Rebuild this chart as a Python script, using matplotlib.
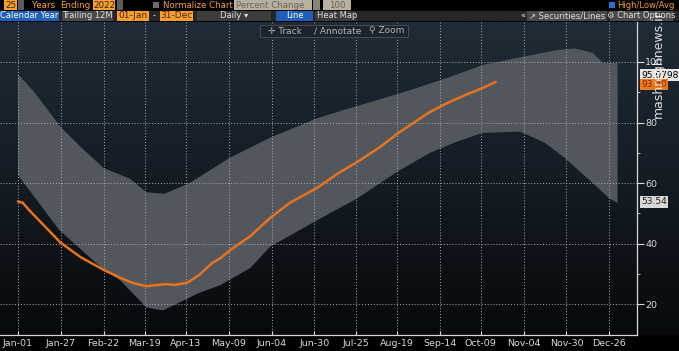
import matplotlib
matplotlib.use("Agg")
import matplotlib.pyplot as plt
import numpy as np
from matplotlib.colors import LinearSegmentedColormap

# ---- data (x = day of year 2022) ----
tick_days = [0, 26, 52, 77, 102, 128, 154, 180, 205, 230, 256, 281, 307, 333, 359]
tick_labels = ["Jan-01", "Jan-27", "Feb-22", "Mar-19", "Apr-13", "May-09", "Jun-04",
               "Jun-30", "Jul-25", "Aug-19", "Sep-14", "Oct-09", "Nov-04", "Nov-30", "Dec-26"]

high_days = [0, 10, 26, 38, 52, 68, 78, 89, 104, 123, 129, 153, 182, 203, 234,
             262, 282, 309, 328, 338, 349, 355, 364]
high_vals = [96, 90, 78.5, 72, 65, 61.5, 57, 56.5, 60, 66.5, 68.5, 75, 81.5, 85, 90,
             95, 99, 102, 104, 104.5, 103, 99.7, 99.7]

low_days = [0, 25, 52, 62, 78, 88, 110, 123, 141, 153, 182, 206, 230,
            250, 266, 282, 305, 320, 332, 347, 359, 364]
low_vals = [62.7, 44.6, 31.4, 28, 19, 18, 23.8, 26.4, 32, 39, 47.9, 55, 63.7,
            70, 73.6, 76.6, 77, 73.3, 68.3, 61, 55, 53.5]

cur_days = [0, 3, 7, 15, 26, 38, 52, 62, 70, 78, 90, 95, 103, 110, 118, 123, 129, 141,
            153, 165, 182, 195, 206, 220, 231, 250, 262, 272, 282, 290]
cur_vals = [54, 53.5, 51, 46.5, 40.3, 35.6, 31.4, 28.8, 27, 26, 26.7, 26.4, 27.2, 29.7,
            33.7, 35.3, 38, 42.5, 48.5, 53.5, 58.6, 63.5, 67, 72, 76.6, 83.5, 86.8, 89.2,
            91.4, 93.4]

y_ticks = [20, 40, 60, 80, 100]

W, H = 679, 351


def fx(x):
    return x / W


def fy(y):
    return 1 - y / H


fig = plt.figure(figsize=(W / 100, H / 100), dpi=100, facecolor="black")

# background gradient behind the plot area (also behind the right label strip)
bg = fig.add_axes([0, fy(335), 1, (335 - 22) / H])
grad = np.linspace(0, 1, 256).reshape(-1, 1)
cmap = LinearSegmentedColormap.from_list("bbg", ["#1f2b36", "#141c24", "#07090c"])
bg.imshow(grad, aspect="auto", cmap=cmap, extent=[0, 1, 0, 1])
bg.set_axis_off()

ax = fig.add_axes([0, fy(335), fx(637), (335 - 22) / H])
ax.set_facecolor("none")

# high / low band
band_x = list(high_days) + list(low_days[::-1])
band_y = list(high_vals) + list(low_vals[::-1])
ax.fill(band_x, band_y, color="#51575d", lw=0, zorder=1)

ax.plot(cur_days, cur_vals, color="#e8731e", lw=1.8, zorder=3, solid_capstyle="round")

ax.set_xlim(-10.9, 375.8)
ax.set_ylim(9.9, 113.2)

ax.set_xticks(tick_days)
ax.set_xticklabels(tick_labels)
ax.set_yticks(y_ticks)
ax.set_yticks([30, 50, 70, 90], minor=True)
ax.yaxis.tick_right()
ax.tick_params(axis="x", colors="#d8d8d8", labelsize=6.8, direction="in", length=3, pad=3)
ax.tick_params(axis="y", which="major", colors="#d8d8d8", labelsize=6.8, direction="out",
               length=5, pad=1)
ax.tick_params(axis="y", which="minor", colors="#d8d8d8", direction="out", length=2)
ax.grid(True, which="major", color="#a7adb3", ls=(0, (1, 2)), lw=0.7, zorder=2)
for s in ["top", "left"]:
    ax.spines[s].set_visible(False)
for s in ["right", "bottom"]:
    ax.spines[s].set_color("#d8d8d8")
    ax.spines[s].set_linewidth(0.9)
ax.set_axisbelow(False)

# last value tags on the right
fig.text(fx(641), fy(75), "95.0798", fontsize=6.5, color="black", va="center", ha="left",
         bbox=dict(boxstyle="square,pad=0.15", fc="#e6e6e6", ec="none"))
fig.text(fx(641), fy(84.5), "93.40", fontsize=6.5, color="#7a2a00", va="center", ha="left",
         bbox=dict(boxstyle="square,pad=0.15", fc="#f07a1e", ec="none"))
fig.text(fx(641), fy(202), "53.54", fontsize=6.5, color="#202020", va="center", ha="left",
         bbox=dict(boxstyle="square,pad=0.15", fc="#d8d8d8", ec="none"))

# ---- header rows (terminal toolbar) ----
amber = "#f5a030"
fs = 6


def box(x0, y0, x1, y1, fc, ec="none"):
    fig.patches.append(plt.Rectangle((fx(x0), fy(y1)), fx(x1 - x0), (y1 - y0) / H,
                                     transform=fig.transFigure, fc=fc, ec=ec, lw=0.6,
                                     zorder=1))


def label(x, y, s, color, ha="left", size=fs):
    fig.text(fx(x), fy(y), s, color=color, fontsize=size, ha=ha, va="center", zorder=3)


# row 1
box(4, 0, 17, 10, amber)
label(10.5, 5, "25", "#3a1a00", ha="center", size=6.3)
box(18, 0, 24, 10, "#5a5a5a")
label(32, 5, "Years", amber, size=6.3)
label(60, 5, "Ending", amber, size=6.3)
box(93, 0, 115, 10, amber)
label(104, 5, "2022", "#3a1a00", ha="center", size=6.3)
box(117, 0, 123, 10, "#5a5a5a")
box(153, 2, 159, 8, "#6a6a6a")
label(163, 5, "Normalize Chart", amber, size=6.2)
box(234, 0, 312, 10, "#b8b1a0")
label(236, 5, "Percent Change", "#6a6458", size=6.2)
box(313, 0, 320, 10, "#8a8478")
box(323, 0, 351, 10, "#b8b1a0")
label(337, 5, "100", "#6a6458", ha="center", size=6.2)
box(609, 2, 615, 8, "#2b6fd0")
label(617, 5, "High/Low/Avg", amber, size=6)

# row 2
box(0, 11, 679, 21, "#262626")
box(0, 11, 59, 21, "#1f5fb8")
label(29.5, 16, "Calendar Year", "white", ha="center")
box(62, 11, 113, 21, "#4a4a4a")
label(87.5, 16, "Trailing 12M", "#e0e0e0", ha="center")
box(117, 11, 149, 21, amber)
label(133, 16, "01-Jan", "#5a2000", ha="center", size=6.5)
label(154, 16, "-", "#e0e0e0", ha="center")
box(160, 11, 193, 21, amber)
label(176.5, 16, "31-Dec", "#5a2000", ha="center", size=6.5)
box(197, 11, 271, 21, "#3c3c3c")
label(234, 16, "Daily \u25be", "#e0e0e0", ha="center")
box(276, 11, 313, 21, "#1f5fb8")
label(294.5, 16, "Line", "white", ha="center")
box(315, 11, 356, 21, "#3c3c3c")
label(317, 16, "Heat Map", "#e0e0e0")
label(523, 16, "\u00ab", "#e0e0e0", ha="center")
box(527, 11, 607, 21, "#4a4a4a")
label(567, 16, "\u2197 Securities/Lines", "#e0e0e0", ha="center")
box(610, 11, 673, 21, "#4a4a4a")
label(641.5, 16, "\u2699 Chart Options", "#e0e0e0", ha="center")

# row 3 - chart tools
box(260, 25, 408, 37, "#1b232b", ec="#4a525a")
label(285, 31, "\u271b Track", "#b0b6bc", ha="center", size=6.5)
label(338, 31, "\u2215 Annotate", "#b0b6bc", ha="center", size=6.5)
label(387, 31, "\u26b2 Zoom", "#b0b6bc", ha="center", size=6.5)

# watermark
fig.text(fx(658), fy(64), "mashreghnews.ir", rotation=90, color="white", alpha=0.85,
         fontsize=9, ha="center", va="center", zorder=4)

fig.savefig("out.png", dpi=100, facecolor=fig.get_facecolor())
